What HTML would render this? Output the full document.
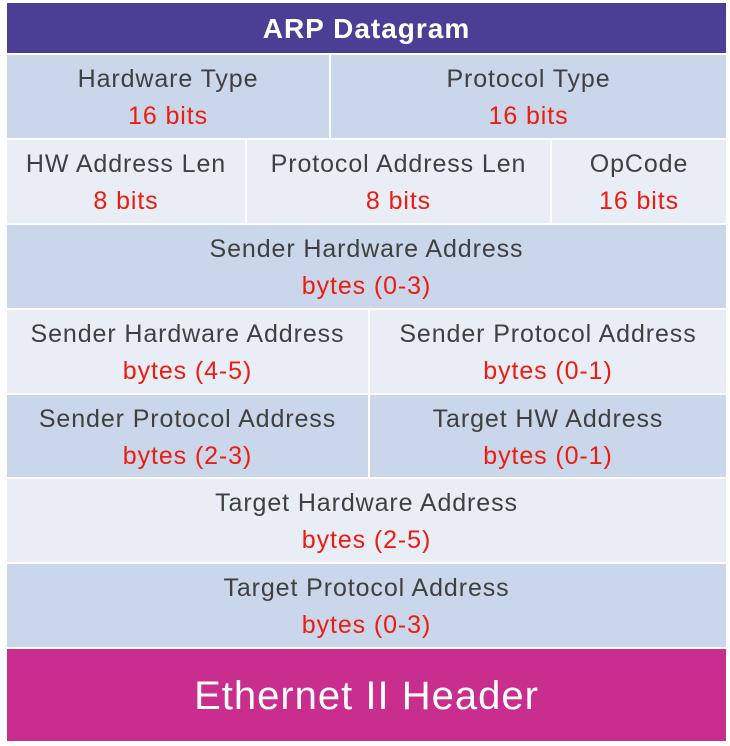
<!DOCTYPE html>
<html><head><style>
body{margin:0;width:730px;height:746px;background:#fff;font-family:"Liberation Sans",Calibri,sans-serif;overflow:hidden}
.b{position:absolute;display:flex;flex-direction:column;align-items:center;justify-content:center;font-size:25px;letter-spacing:0.9px;color:#404040;line-height:37px;box-sizing:border-box;padding-top:3px}
.d{background:#cad6e9}.l{background:#e8edf6}
.r{color:#ee1c0e}
</style></head><body>
<div class="b" style="left:7px;top:3px;width:719px;height:50px;background:#4b3f95;color:#fff;font-weight:bold;font-size:28px;letter-spacing:1px;padding-top:1px">ARP Datagram</div>

<div class="b d" style="left:7px;top:55px;width:322px;height:83px"><div>Hardware Type</div><div class="r">16 bits</div></div>
<div class="b d" style="left:331px;top:55px;width:395px;height:83px"><div>Protocol Type</div><div class="r">16 bits</div></div>

<div class="b l" style="left:7px;top:140px;width:238px;height:83px"><div>HW Address Len</div><div class="r">8 bits</div></div>
<div class="b l" style="left:247px;top:140px;width:303px;height:83px"><div>Protocol Address Len</div><div class="r">8 bits</div></div>
<div class="b l" style="left:552px;top:140px;width:174px;height:83px"><div>OpCode</div><div class="r">16 bits</div></div>

<div class="b d" style="left:7px;top:225px;width:719px;height:83px"><div>Sender Hardware Address</div><div class="r">bytes (0-3)</div></div>

<div class="b l" style="left:7px;top:310px;width:361px;height:83px"><div>Sender Hardware Address</div><div class="r">bytes (4-5)</div></div>
<div class="b l" style="left:370px;top:310px;width:356px;height:83px"><div>Sender Protocol Address</div><div class="r">bytes (0-1)</div></div>

<div class="b d" style="left:7px;top:395px;width:361px;height:82px"><div>Sender Protocol Address</div><div class="r">bytes (2-3)</div></div>
<div class="b d" style="left:370px;top:395px;width:356px;height:82px"><div>Target HW Address</div><div class="r">bytes (0-1)</div></div>

<div class="b l" style="left:7px;top:479px;width:719px;height:83px"><div>Target Hardware Address</div><div class="r">bytes (2-5)</div></div>
<div class="b d" style="left:7px;top:564px;width:719px;height:83px"><div>Target Protocol Address</div><div class="r">bytes (0-3)</div></div>

<div class="b" style="left:7px;top:649px;width:719px;height:92px;background:#c92d8e;color:#fff;font-size:40px;letter-spacing:1px">Ethernet II Header</div>
</body></html>
